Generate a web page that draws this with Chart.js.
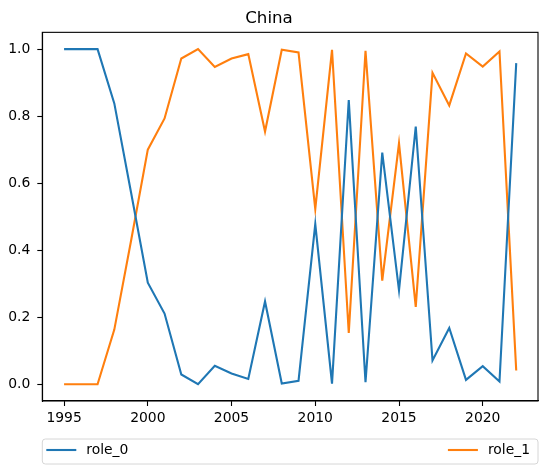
<!DOCTYPE html>
<html lang="en">
<head>
  <meta charset="UTF-8">
  <title>China</title>
  <style>
    body {
      margin: 0;
      background: #ffffff;
    }
    #wrap {
      width: 547px;
      height: 474px;
    }
  </style>
  <script src="https://cdn.jsdelivr.net/npm/chart.js"></script>
</head>
<body>
  <div id="wrap">
    <canvas id="chinaChart" width="547" height="474"></canvas>
  </div>

  <script>
    // Values
    const years = [1995, 1996, 1997, 1998, 1999, 2000, 2001, 2002, 2003, 2004,
                   2005, 2006, 2007, 2008, 2009, 2010, 2011, 2012, 2013, 2014,
                   2015, 2016, 2017, 2018, 2019, 2020, 2021, 2022];
    const role0 = [1.0, 1.0, 1.0, 0.838, 0.572, 0.303, 0.211, 0.029, 0.0, 0.055,
                   0.032, 0.016, 0.247, 0.002, 0.010, 0.478, 0.002, 0.848, 0.006, 0.691,
                   0.280, 0.769, 0.071, 0.168, 0.013, 0.054, 0.008, 0.958];
    const role1 = [0.0, 0.0, 0.0, 0.163, 0.428, 0.700, 0.793, 0.972, 1.0, 0.947,
                   0.972, 0.985, 0.754, 0.998, 0.990, 0.523, 0.998, 0.153, 0.995, 0.309,
                   0.719, 0.231, 0.929, 0.832, 0.987, 0.948, 0.993, 0.041];
    const seriesNames = ['role_0', 'role_1'];
    const seriesColors = ['#1f77b4', '#ff7f0e'];

    const FONT = '"DejaVu Sans", sans-serif';

    function toPoints(values) {
      return years.map((yr, i) => ({ x: yr, y: values[i] }));
    }

    // matplotlib-like frame plus an "expand" legend under the axes
    const framePlugin = {
      id: 'frameAndLegend',
      afterDraw(chart) {
        const ctx = chart.ctx;
        const a = chart.chartArea;
        ctx.save();
        ctx.strokeStyle = '#000000';
        ctx.lineWidth = 1.1;
        ctx.strokeRect(a.left, a.top, a.right - a.left, a.bottom - a.top);

        // legend box
        const top = a.bottom + 38;
        const h = 25;
        const left = a.left;
        const w = a.right - a.left;
        const r = 3;
        ctx.beginPath();
        ctx.moveTo(left + r, top);
        ctx.lineTo(left + w - r, top);
        ctx.quadraticCurveTo(left + w, top, left + w, top + r);
        ctx.lineTo(left + w, top + h - r);
        ctx.quadraticCurveTo(left + w, top + h, left + w - r, top + h);
        ctx.lineTo(left + r, top + h);
        ctx.quadraticCurveTo(left, top + h, left, top + h - r);
        ctx.lineTo(left, top + r);
        ctx.quadraticCurveTo(left, top, left + r, top);
        ctx.closePath();
        ctx.fillStyle = 'rgba(255,255,255,0.8)';
        ctx.fill();
        ctx.strokeStyle = '#d6d6d6';
        ctx.lineWidth = 1;
        ctx.stroke();

        ctx.font = '13.9px ' + FONT;
        ctx.textBaseline = 'middle';
        ctx.textAlign = 'left';
        const cy = top + 11;
        const ds = chart.data.datasets;

        // first entry, left side
        ctx.strokeStyle = ds[0].borderColor;
        ctx.lineWidth = 2.1;
        ctx.beginPath();
        ctx.moveTo(left + 4, cy);
        ctx.lineTo(left + 34, cy);
        ctx.stroke();
        ctx.fillStyle = '#000000';
        ctx.fillText(ds[0].label, left + 44, cy);

        // second entry, pushed to the right edge
        const tw = ctx.measureText(ds[1].label).width;
        const tx = left + w - 8 - tw;
        ctx.strokeStyle = ds[1].borderColor;
        ctx.beginPath();
        ctx.moveTo(tx - 40, cy);
        ctx.lineTo(tx - 10, cy);
        ctx.stroke();
        ctx.fillText(ds[1].label, tx, cy);
        ctx.restore();
      }
    };

    const ctx = document.getElementById('chinaChart').getContext('2d');
    new Chart(ctx, {
      type: 'line',
      data: {
        datasets: [
          {
            label: seriesNames[0],
            data: toPoints(role0),
            borderColor: seriesColors[0],
            borderWidth: 2.1,
            pointRadius: 0,
            tension: 0,
            fill: false
          },
          {
            label: seriesNames[1],
            data: toPoints(role1),
            borderColor: seriesColors[1],
            borderWidth: 2.1,
            pointRadius: 0,
            tension: 0,
            fill: false
          }
        ]
      },
      options: {
        responsive: false,
        animation: false,
        layout: {
          padding: { left: 0, right: 9, top: 0, bottom: 43 }
        },
        plugins: {
          legend: { display: false },
          tooltip: { enabled: false },
          title: {
            display: true,
            text: 'China',
            color: '#000000',
            font: { family: FONT, size: 16.7, weight: 'normal' },
            padding: { top: 9, bottom: 3.3 }
          }
        },
        scales: {
          x: {
            type: 'linear',
            min: 1993.7,
            max: 2023.3,
            afterFit(scale) { scale.height = 30; },
            border: { display: true, color: '#000000', width: 1.1 },
            grid: {
              display: true,
              drawOnChartArea: false,
              drawTicks: true,
              tickLength: 5,
              tickColor: '#000000',
              tickWidth: 1.1
            },
            ticks: {
              stepSize: 5,
              includeBounds: false,
              maxRotation: 0,
              color: '#000000',
              padding: 4,
              font: { family: FONT, size: 13.9 },
              callback: (v) => String(v)
            }
          },
          y: {
            min: -0.05,
            max: 1.05,
            afterFit(scale) { scale.width = 42.3; },
            border: { display: true, color: '#000000', width: 1.1 },
            grid: {
              display: true,
              drawOnChartArea: false,
              drawTicks: true,
              tickLength: 5,
              tickColor: '#000000',
              tickWidth: 1.1
            },
            ticks: {
              stepSize: 0.2,
              includeBounds: false,
              color: '#000000',
              padding: 7,
              font: { family: FONT, size: 13.9 },
              callback: (v) => Number(v).toFixed(1)
            }
          }
        }
      },
      plugins: [framePlugin]
    });
  </script>
</body>
</html>
